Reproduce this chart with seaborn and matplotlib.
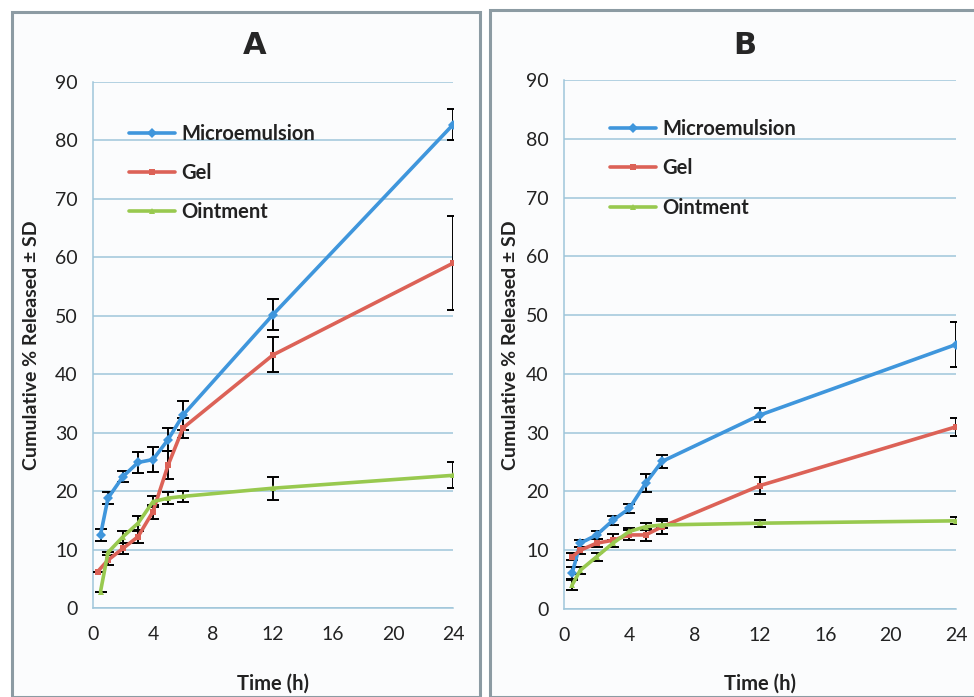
import numpy as np
import pandas as pd
import seaborn as sns
import matplotlib
matplotlib.use("Agg")
import matplotlib.pyplot as plt
from matplotlib.patches import Rectangle

# ---------------- data ----------------
series_names = ["Microemulsion", "Gel", "Ointment"]

# Panel A
a_time_micro = [0.5, 1, 2, 3, 4, 5, 6, 12, 24]
a_micro = [12.5, 18.8, 22.5, 24.9, 25.4, 28.8, 33.0, 50.2, 82.7]
a_micro_sd = [1.0, 1.0, 1.0, 1.8, 2.1, 2.0, 2.5, 2.6, 2.7]

a_time_gel = [0.3, 1, 2, 3, 4, 5, 6, 12, 24]
a_gel = [6.2, 8.2, 10.2, 12.2, 16.5, 24.4, 30.8, 43.3, 59.0]
a_gel_sd = [0.0, 0.8, 1.0, 1.0, 1.2, 2.4, 1.7, 3.0, 8.0]

a_time_oint = [0.5, 1, 2, 3, 4, 5, 6, 12, 24]
a_oint = [2.8, 9.5, 12.2, 14.5, 18.2, 18.8, 19.1, 20.5, 22.7]
a_oint_sd = [0.0, 0.0, 1.0, 1.2, 1.0, 1.0, 1.0, 2.0, 2.2]

# Panel B
b_time = [0.5, 1, 2, 3, 4, 5, 6, 12, 24]
b_micro = [6.1, 11.2, 12.6, 15.1, 17.1, 21.4, 25.1, 33.0, 45.0]
b_micro_sd = [1.0, 0.6, 0.7, 0.8, 0.8, 1.5, 1.1, 1.2, 3.8]
b_gel = [8.9, 10.0, 11.2, 11.7, 12.6, 12.6, 14.0, 21.0, 31.0]
b_gel_sd = [0.6, 0.6, 0.7, 1.1, 0.9, 1.0, 1.3, 1.5, 1.5]
b_oint = [4.1, 6.6, 8.9, 11.2, 13.2, 14.0, 14.3, 14.6, 15.0]
b_oint_sd = [0.8, 0.6, 0.7, 0.6, 0.6, 0.6, 0.6, 0.6, 0.6]

x_ticks = [0, 4, 8, 12, 16, 20, 24]
y_ticks = [0, 10, 20, 30, 40, 50, 60, 70, 80, 90]
panel_titles = ["A", "B"]
x_label = "Time (h)"
y_label = "Cumulative % Released \u00b1 SD"

colors = {"Microemulsion": "#3f96dc", "Gel": "#dc6257", "Ointment": "#98c94f"}
markers = {"Microemulsion": "D", "Gel": "s", "Ointment": "^"}


def build(times, vals, sds):
    frames = []
    for name, t, v, s in zip(series_names, times, vals, sds):
        frames.append(pd.DataFrame({"Time": t, "Value": v, "SD": s, "Series": name}))
    return pd.concat(frames, ignore_index=True)


dfA = build([a_time_micro, a_time_gel, a_time_oint], [a_micro, a_gel, a_oint],
            [a_micro_sd, a_gel_sd, a_oint_sd])
dfB = build([b_time, b_time, b_time], [b_micro, b_gel, b_oint],
            [b_micro_sd, b_gel_sd, b_oint_sd])

# ---------------- style ----------------
sns.set_theme(style="white")
plt.rcParams["font.family"] = ["Lato", "DejaVu Sans"]

fig = plt.figure(figsize=(9.74, 6.97), dpi=100)
fig.patch.set_facecolor("white")
W, H = 974, 697

# panel frames
fig.add_artist(Rectangle((12 / W, 0), (480 - 12) / W, (697 - 12) / H,
                         transform=fig.transFigure, fill=True, facecolor="#fbfcfd",
                         edgecolor="#8c9ba3", lw=2.2, zorder=0))
fig.add_artist(Rectangle((490 / W, 0), (990 - 490) / W, (697 - 10) / H,
                         transform=fig.transFigure, fill=True, facecolor="#fbfcfd",
                         edgecolor="#8c9ba3", lw=2.2, zorder=0))

axA = fig.add_axes([93 / W, 1 - 608 / H, (453 - 93) / W, (608 - 82) / H])
axB = fig.add_axes([564 / W, 1 - 609 / H, (956 - 564) / W, (609 - 80) / H])

legend_pos = [(0.05, 0.955), (0.07, 0.96)]
ylab_x = [32 / W, 511 / W]
title_x = [255 / W, 745 / W]

for ax, df, title, lp, yx, tx in zip([axA, axB], [dfA, dfB], panel_titles,
                                     legend_pos, ylab_x, title_x):
    ax.set_facecolor("none")
    for name in series_names:
        sub = df[df["Series"] == name]
        ax.errorbar(sub["Time"], sub["Value"], yerr=sub["SD"], fmt="none",
                    ecolor="black", elinewidth=1.4, capsize=4, capthick=1.4, zorder=4)
    sns.lineplot(data=df, x="Time", y="Value", hue="Series", style="Series",
                 palette=colors, markers=markers, dashes=False, sort=False,
                 estimator=None, linewidth=2.6, markersize=5, markeredgewidth=0,
                 ax=ax, zorder=5)
    ax.set_xlim(0, 24)
    ax.set_ylim(0, 90)
    ax.set_xticks(x_ticks)
    ax.set_yticks(y_ticks)
    ax.tick_params(axis="both", length=0, labelsize=14, colors="#222222", pad=13)
    ax.tick_params(axis="y", pad=11)
    ax.yaxis.grid(True, color="#9fc6da", lw=1.1)
    ax.xaxis.grid(False)
    for sp in ["top", "right"]:
        ax.spines[sp].set_visible(False)
    for sp in ["left", "bottom"]:
        ax.spines[sp].set_color("#9fc6da")
        ax.spines[sp].set_linewidth(1.1)
    ax.set_xlabel("")
    ax.set_ylabel("")
    leg = ax.legend(loc="upper left", bbox_to_anchor=lp, frameon=False,
                    fontsize=14.5, handlelength=2.3, handletextpad=0.3,
                    labelspacing=0.95)
    for txt in leg.get_texts():
        txt.set_fontweight("bold")
        txt.set_color("#222222")
    fig.text(tx, 1 - 45 / H, title, ha="center", va="center", fontsize=22,
             fontweight="bold", family="DejaVu Sans")
    fig.text(yx, 1 - 345 / H, y_label, rotation=90, ha="center", va="center",
             fontsize=14, fontweight="bold", color="#222222")
    fig.text((ax.get_position().x0 + ax.get_position().x1) / 2, 1 - 684 / H, x_label,
             ha="center", va="center", fontsize=14.5, fontweight="bold", color="#222222")

fig.savefig("out.png", dpi=100)
